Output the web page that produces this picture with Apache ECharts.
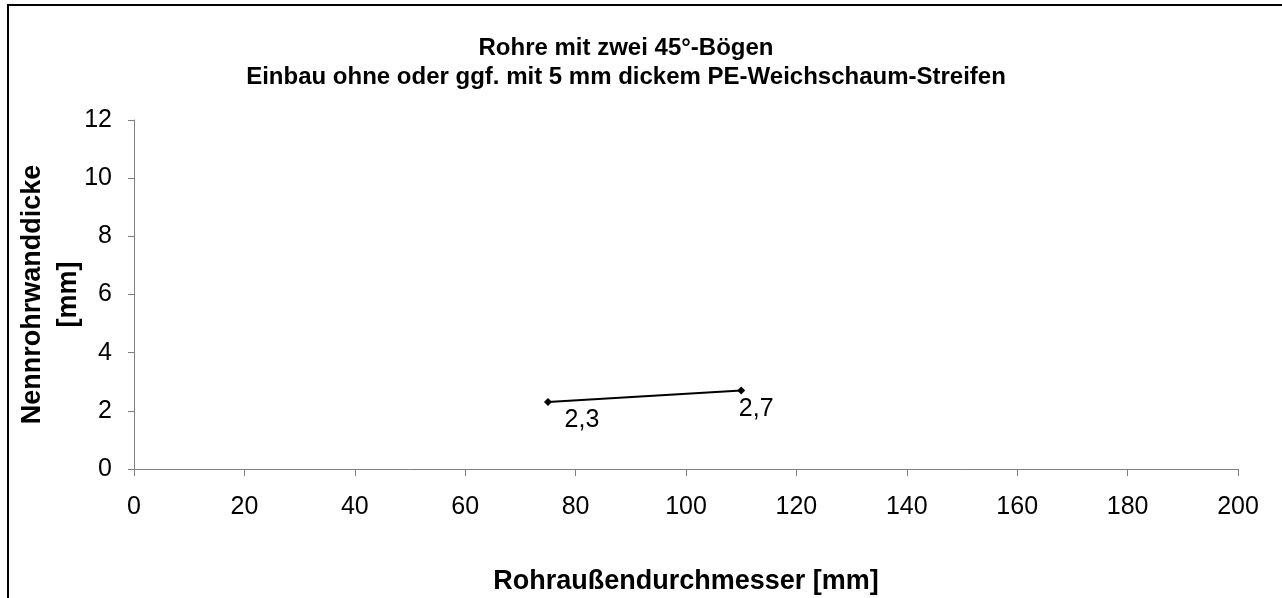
<!DOCTYPE html>
<html>
<head>
<meta charset="utf-8">
<script src="https://cdn.jsdelivr.net/npm/echarts@6/dist/echarts.min.js"></script>
<style>
html,body{margin:0;padding:0;background:#fff;}
#c{width:1282px;height:598px;}
</style>
</head>
<body>
<div id="c"></div>
<script>
const titleLines = ["Rohre mit zwei 45°-Bögen", "Einbau ohne oder ggf. mit 5 mm dickem PE-Weichschaum-Streifen"];
const xName = "Rohraußendurchmesser [mm]";
const yName = "Nennrohrwanddicke\n[mm]";
const xValues = [75, 110];
const yValues = [2.3, 2.7];
const xTicks = { min: 0, max: 200, interval: 20 };
const yTicks = { min: 0, max: 12, interval: 2 };

// label placement (style only)
const labelOffsets = [[34, 18], [15, 19]];

const FONT = "'Liberation Sans', Arial, sans-serif";
const fmt = v => String(v).replace('.', ',');

const seriesData = xValues.map((x, i) => ({
  value: [x, yValues[i]],
  label: { offset: labelOffsets[i] }
}));

const chart = echarts.init(document.getElementById('c'), null, { renderer: 'canvas' });
chart.setOption({
  animation: false,
  backgroundColor: '#fff',
  title: {
    text: titleLines.join('\n'),
    left: 621,
    textAlign: 'center',
    top: 29,
    textStyle: { fontFamily: FONT, fontWeight: 'bold', fontSize: 24, lineHeight: 29, color: '#000' }
  },
  graphic: [{
    type: 'rect',
    shape: { x: 8, y: 5, width: 1300, height: 700 },
    style: { fill: 'none', stroke: '#000', lineWidth: 2 },
    silent: true,
    z: 100
  }],
  grid: { left: 134, right: 44, top: 120, bottom: 129, containLabel: false, outerBoundsMode: 'none' },
  xAxis: {
    type: 'value',
    min: xTicks.min, max: xTicks.max, interval: xTicks.interval,
    name: xName,
    nameLocation: 'middle',
    nameGap: 99,
    nameMoveOverlap: false,
    nameTextStyle: { fontFamily: FONT, fontWeight: 'bold', fontSize: 27, color: '#000' },
    axisLine: { show: true, lineStyle: { color: '#808080', width: 1 } },
    axisTick: { show: true, inside: false, length: 7, lineStyle: { color: '#808080' } },
    axisLabel: { fontFamily: FONT, fontSize: 25, color: '#000', margin: 26 },
    splitLine: { show: false }
  },
  yAxis: {
    type: 'value',
    min: yTicks.min, max: yTicks.max, interval: yTicks.interval,
    name: yName,
    nameLocation: 'middle',
    nameRotate: 90,
    nameGap: 47,
    nameMoveOverlap: false,
    nameTextStyle: { fontFamily: FONT, fontWeight: 'bold', fontSize: 27, lineHeight: 36, color: '#000' },
    axisLine: { show: true, lineStyle: { color: '#808080', width: 1 } },
    axisTick: { show: true, inside: false, length: 6, lineStyle: { color: '#808080' } },
    axisLabel: { fontFamily: FONT, fontSize: 25, color: '#000', margin: 22 },
    splitLine: { show: false }
  },
  series: [{
    type: 'line',
    data: seriesData,
    symbol: 'diamond',
    symbolSize: 8,
    lineStyle: { color: '#000', width: 2 },
    itemStyle: { color: '#000' },
    label: {
      show: true,
      position: 'inside',
      fontFamily: FONT,
      fontSize: 25,
      color: '#000',
      formatter: p => fmt(p.value[1])
    }
  }]
});
</script>
</body>
</html>
